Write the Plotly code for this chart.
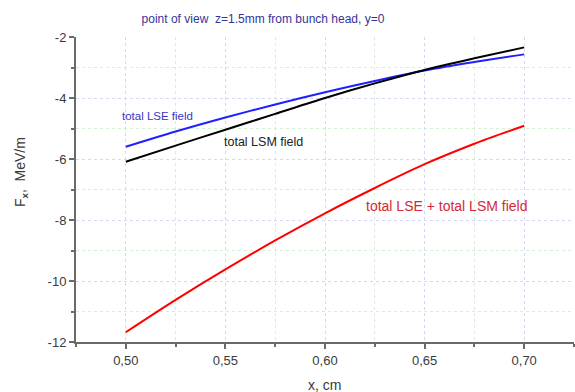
import plotly.graph_objects as go

x_cm = [0.50, 0.525, 0.55, 0.575, 0.60, 0.625, 0.65, 0.675, 0.70]
lse_field = [-5.60, -5.10, -4.64, -4.21, -3.81, -3.44, -3.10, -2.82, -2.57]
lsm_field = [-6.09, -5.56, -5.04, -4.52, -4.00, -3.52, -3.08, -2.70, -2.34]
sum_field = [-11.68, -10.62, -9.62, -8.67, -7.78, -6.95, -6.17, -5.50, -4.91]

x_tickvals = [0.50, 0.55, 0.60, 0.65, 0.70]
x_ticktext = ["0,50", "0,55", "0,60", "0,65", "0,70"]
y_tickvals = [-12, -10, -8, -6, -4, -2]
y_ticktext = ["-12", "-10", "-8", "-6", "-4", "-2"]

FONT = "Liberation Sans, Arial, sans-serif"

fig = go.Figure()
fig.add_trace(go.Scatter(x=x_cm, y=lse_field, mode="lines",
                         line=dict(color="#1f1fff", width=2, shape="spline", smoothing=0.8),
                         name="total LSE field"))
fig.add_trace(go.Scatter(x=x_cm, y=lsm_field, mode="lines",
                         line=dict(color="#000000", width=2, shape="spline", smoothing=0.8),
                         name="total LSM field"))
fig.add_trace(go.Scatter(x=x_cm, y=sum_field, mode="lines",
                         line=dict(color="#ff0000", width=2, shape="spline", smoothing=0.8),
                         name="total LSE + total LSM field"))

axis_common = dict(
    showline=True, linecolor="#6a6a6a", linewidth=2,
    ticks="outside", ticklen=5, tickwidth=1.5, tickcolor="#6a6a6a",
    tickfont=dict(family=FONT, size=13, color="#3a3a3a"),
    showgrid=True, gridcolor="#d6d6f6", gridwidth=1, griddash="dot",
    zeroline=False, mirror=False,
)

fig.update_layout(
    width=575, height=392,
    margin=dict(l=76, r=1, t=37, b=50),
    paper_bgcolor="white", plot_bgcolor="white",
    showlegend=False,
    font=dict(family=FONT),
    xaxis=dict(range=[0.475, 0.725], tickvals=x_tickvals, ticktext=x_ticktext,
               minor=dict(dtick=0.025, tick0=0.475, ticks="outside", ticklen=3,
                          tickcolor="#6a6a6a", showgrid=True, gridcolor="#d4f0d4",
                          griddash="dot", gridwidth=1),
               **axis_common),
    yaxis=dict(range=[-12, -2], tickvals=y_tickvals, ticktext=y_ticktext,
               minor=dict(dtick=1, tick0=-12, ticks="outside", ticklen=3,
                          tickcolor="#6a6a6a", showgrid=True, gridcolor="#d4f0d4",
                          griddash="dot", gridwidth=1),
               **axis_common),
    title=dict(text="point of view  z=1.5mm from bunch head, y=0",
               x=263/575, xanchor="center", y=1-19/392, yanchor="middle",
               font=dict(family=FONT, size=12, color="#34349a")),
    annotations=[
        dict(text="total LSE field", x=0.5158, y=-4.59, xref="x", yref="y",
             showarrow=False, font=dict(family=FONT, size=11.5, color="#3535c8")),
        dict(text="total LSM field", x=0.5692, y=-5.44, xref="x", yref="y",
             showarrow=False, font=dict(family=FONT, size=12.5, color="#202020")),
        dict(text="total LSE + total LSM field", x=0.6609, y=-7.54, xref="x", yref="y",
             showarrow=False, font=dict(family=FONT, size=14, color="#d42838")),
        dict(text="x, cm", x=0.499, y=0, xref="paper", yref="paper",
             yshift=-43, yanchor="middle", showarrow=False,
             font=dict(family=FONT, size=14, color="#3a3a3a")),
        dict(text="F<sub><b>x</b></sub>,  MeV/m", x=0, y=0.557, xref="paper", yref="paper",
             xshift=-55, xanchor="center", yanchor="middle", textangle=-90,
             showarrow=False, font=dict(family=FONT, size=14, color="#3a3a3a")),
    ],
)

fig.write_html("out.html")
